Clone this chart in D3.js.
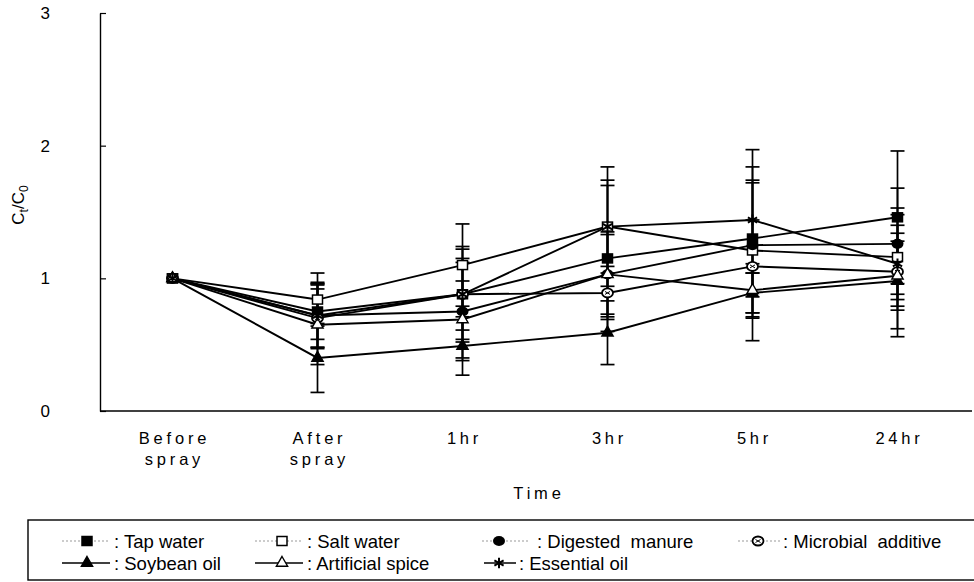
<!DOCTYPE html>
<html>
<head>
<meta charset="utf-8">
<script src="https://cdn.jsdelivr.net/npm/d3@7"></script>
<style>
  body { margin: 0; background: #fff; }
  svg { font-family: "Liberation Sans", Arial, sans-serif; }
</style>
</head>
<body>
<svg id="chart" width="974" height="582"></svg>
<script>
// Time points on the x axis
const timeLabels = ["Before spray", "After spray", "1hr", "3hr", "5hr", "24hr"];
const yTicks = [0, 1, 2, 3];

// Ct/C0 means and error bar half-widths for each treatment
const tapWater = [1.0, 0.75, 0.88, 1.15, 1.30, 1.46];
const tapWaterErr = [0, 0.21, 0.34, 0.55, 0.44, 0.50];
const saltWater = [1.0, 0.84, 1.10, 1.39, 1.21, 1.16];
const saltWaterErr = [0, 0.20, 0.31, 0.45, 0.51, 0.37];
const digestedManure = [1.0, 0.72, 0.75, 1.03, 1.25, 1.26];
const digestedManureErr = [0, 0.25, 0.37, 0.30, 0.72, 0.42];
const microbialAdditive = [1.0, 0.70, 0.88, 0.89, 1.09, 1.05];
const microbialAdditiveErr = [0, 0.22, 0.36, 0.20, 0.35, 0.43];
const soybeanOil = [1.0, 0.40, 0.49, 0.59, 0.89, 0.98];
const soybeanOilErr = [0, 0.26, 0.22, 0.24, 0.15, 0.42];
const artificialSpice = [1.0, 0.65, 0.69, 1.03, 0.91, 1.02];
const artificialSpiceErr = [0, 0.30, 0.29, 0.32, 0.20, 0.26];
const essentialOil = [1.0, 0.72, 0.88, 1.39, 1.44, 1.11];
const essentialOilErr = [0, 0.24, 0.27, 0.35, 0.40, 0.23];

const series = [
    { name: "Tap water", values: tapWater, err: tapWaterErr, symbol: "square", filled: true, dotted: true },
    { name: "Salt water", values: saltWater, err: saltWaterErr, symbol: "square", filled: false, dotted: true },
    { name: "Digested  manure", values: digestedManure, err: digestedManureErr, symbol: "circle", filled: true, dotted: true },
    { name: "Microbial  additive", values: microbialAdditive, err: microbialAdditiveErr, symbol: "ocircle", filled: false, dotted: true },
    { name: "Soybean oil", values: soybeanOil, err: soybeanOilErr, symbol: "triangle", filled: true, dotted: false },
    { name: "Artificial spice", values: artificialSpice, err: artificialSpiceErr, symbol: "triangle", filled: false, dotted: false },
    { name: "Essential oil", values: essentialOil, err: essentialOilErr, symbol: "asterisk", filled: false, dotted: false }
];

const svg = d3.select("#chart");

// Plot area edges
const plotLeft = 100, plotRight = 970, plotTop = 13, plotBottom = 411;

const x = d3.scaleBand().domain(timeLabels).range([plotLeft, plotRight]);
const xc = d => x(d) + x.bandwidth() / 2;
const y = d3.scaleLinear().domain([0, 3]).range([plotBottom, plotTop]);

// Y axis, ticks pointing into the plot
svg.append("g")
    .attr("transform", `translate(${plotLeft},0)`)
    .call(d3.axisLeft(y).tickValues(yTicks).tickFormat(d3.format("d"))
        .tickSizeInner(-6).tickSizeOuter(0).tickPadding(50))
    .call(g => g.select(".domain").attr("stroke", "#000").attr("stroke-width", 1.4))
    .call(g => g.selectAll(".tick line").attr("stroke", "#000").attr("stroke-width", 1.2))
    .call(g => g.selectAll(".tick text").attr("font-size", 17).attr("fill", "#000")
        .attr("font-family", "Liberation Sans, Arial, sans-serif"));

// X axis: plain line, labels in two rows
svg.append("g")
    .attr("transform", `translate(0,${plotBottom})`)
    .call(d3.axisBottom(x).tickSize(0).tickFormat(""))
    .call(g => g.select(".domain").attr("stroke", "#000").attr("stroke-width", 1.5)
        .attr("d", `M${plotLeft},0H972`));

const xLabels = svg.append("g").attr("font-size", 16.5).attr("letter-spacing", 3.8)
    .attr("text-anchor", "middle");
timeLabels.forEach(function(t) {
    const lines = t.split(" ");
    lines.forEach(function(l, i) {
        xLabels.append("text")
            .attr("x", xc(t) + 2)
            .attr("y", 444 + i * 21)
            .text(l);
    });
});

svg.append("text")
    .attr("x", 539).attr("y", 499)
    .attr("text-anchor", "middle")
    .attr("font-size", 16.5).attr("letter-spacing", 3.8)
    .text("Time");

// Y axis title Ct/C0
const yTitle = svg.append("text")
    .attr("transform", "translate(24,205) rotate(-90)")
    .attr("text-anchor", "middle")
    .attr("font-size", 17);
yTitle.append("tspan").text("C");
yTitle.append("tspan").attr("font-size", 12).attr("dy", 4).text("t");
yTitle.append("tspan").attr("dy", -4).text("/C");
yTitle.append("tspan").attr("font-size", 12).attr("dy", 4).text("0");

// Draws one marker symbol centred at (cx, cy)
function drawMarker(g, s, cx, cy) {
    const m = g.append("g").attr("transform", `translate(${cx},${cy})`);
    const fill = s.filled ? "#000" : "#fff";
    if (s.symbol === "square") {
        m.append("rect").attr("x", -5).attr("y", -4.5).attr("width", 10).attr("height", 9)
            .attr("fill", fill).attr("stroke", "#000").attr("stroke-width", 1.5);
    } else if (s.symbol === "circle") {
        m.append("ellipse").attr("rx", 6).attr("ry", 5).attr("fill", "#000");
    } else if (s.symbol === "ocircle") {
        m.append("ellipse").attr("rx", 5.5).attr("ry", 4.5).attr("fill", "#fff")
            .attr("stroke", "#000").attr("stroke-width", 1.8);
        m.append("path").attr("d", "M-2.5,-1.5L2.5,1.5M-2.5,1.5L2.5,-1.5")
            .attr("stroke", "#000").attr("stroke-width", 1);
    } else if (s.symbol === "triangle") {
        m.append("path").attr("d", d3.symbol(d3.symbolTriangle, 55)())
            .attr("fill", fill).attr("stroke", "#000").attr("stroke-width", 1.4);
    } else if (s.symbol === "asterisk") {
        m.append("path").attr("d", d3.symbol(d3.symbolAsterisk, 80)())
            .attr("fill", "none").attr("stroke", "#000").attr("stroke-width", 2);
    }
}

const plot = svg.append("g");

// Error bars first so the lines and markers sit on top
series.forEach(function(s) {
    const eb = plot.append("g").attr("stroke", "#000").attr("stroke-width", 1.7);
    timeLabels.forEach(function(t, i) {
        if (s.err[i] === 0) return;
        const hi = y(s.values[i] + s.err[i]);
        const lo = y(Math.max(0, s.values[i] - s.err[i]));
        eb.append("line").attr("x1", xc(t)).attr("x2", xc(t)).attr("y1", hi).attr("y2", lo);
        eb.append("line").attr("x1", xc(t) - 7).attr("x2", xc(t) + 7).attr("y1", hi).attr("y2", hi);
        eb.append("line").attr("x1", xc(t) - 7).attr("x2", xc(t) + 7).attr("y1", lo).attr("y2", lo);
    });
});

const line = d3.line()
    .x((d, i) => xc(timeLabels[i]))
    .y(d => y(d));

series.forEach(function(s) {
    plot.append("path")
        .datum(s.values)
        .attr("d", line)
        .attr("fill", "none")
        .attr("stroke", "#000")
        .attr("stroke-width", 1.9);
});

series.forEach(function(s) {
    s.values.forEach(function(v, i) {
        drawMarker(plot, s, xc(timeLabels[i]), y(v));
    });
});

// Legend box
const legend = svg.append("g");
legend.append("rect")
    .attr("x", 28).attr("y", 520).attr("width", 960).attr("height", 60)
    .attr("fill", "none").attr("stroke", "#000").attr("stroke-width", 1.4);

// legend slot positions: sample line start/end, marker, text
const legendSlots = [
    { x1: 62, x2: 110, m: 87, t: 114 },
    { x1: 255, x2: 303, m: 282, t: 307 },
    { x1: 482, x2: 530, m: 499, t: 537 },
    { x1: 738, x2: 780, m: 758, t: 783 },
    { x1: 62, x2: 110, m: 87, t: 114 },
    { x1: 255, x2: 303, m: 282, t: 307 },
    { x1: 484, x2: 516, m: 499, t: 519 }
];

series.forEach(function(s, i) {
    const row = i < 4 ? 0 : 1;
    const slot = legendSlots[i];
    const ly = 541 + row * 22;
    legend.append("line")
        .attr("x1", slot.x1).attr("x2", slot.x2).attr("y1", ly).attr("y2", ly)
        .attr("stroke", s.dotted ? "#999" : "#000")
        .attr("stroke-width", s.dotted ? 1 : 1.5)
        .attr("stroke-dasharray", s.dotted ? "2,2" : null);
    drawMarker(legend, s, slot.m, ly);
    legend.append("text")
        .attr("x", slot.t).attr("y", ly + 6.5)
        .attr("font-size", 18.5)
        .attr("xml:space", "preserve")
        .style("white-space", "pre")
        .text(": " + s.name);
});
</script>
</body>
</html>
